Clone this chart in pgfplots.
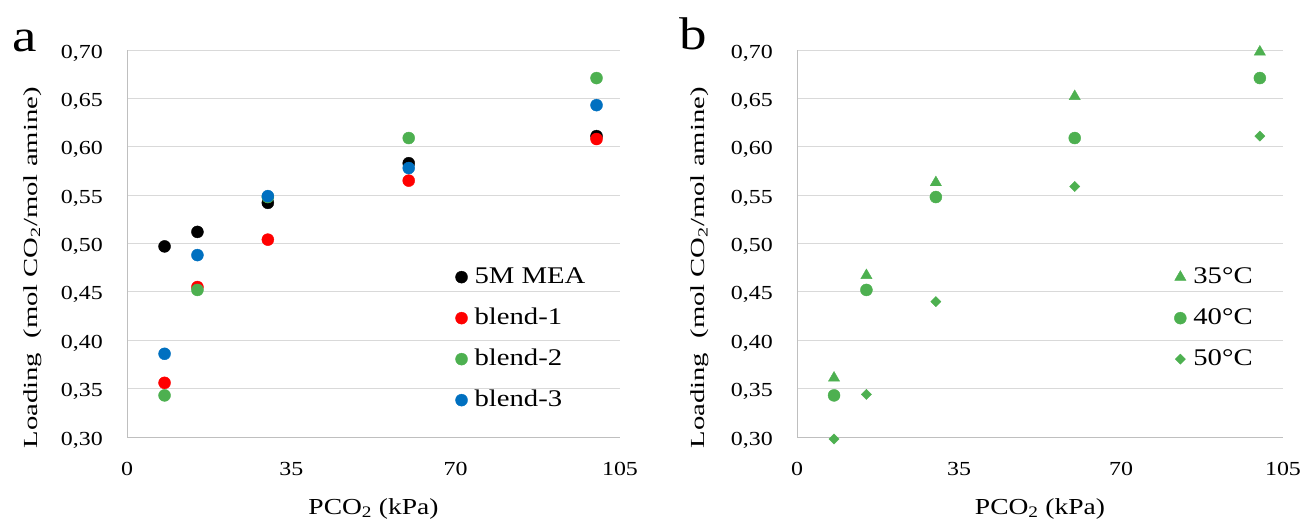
\documentclass[border=0pt]{standalone}
\usepackage{pgfplots}
\pgfplotsset{compat=1.18}
\usepackage{fontspec}
\setmainfont{Liberation Serif}[FakeStretch=1.2]

\definecolor{mgreen}{RGB}{77,176,80}
\definecolor{mblue}{RGB}{0,112,192}
\definecolor{mred}{RGB}{255,0,0}
\definecolor{gridgray}{RGB}{217,217,217}
\definecolor{axisgray}{RGB}{191,191,191}

\pgfplotsset{
  loadaxis/.style={
    scale only axis, height=387bp,
    xmin=0, xmax=105, ymin=0.30, ymax=0.70,
    xtick={0,35,70,105}, xticklabels={0,35,70,105},
    ytick={0.30,0.35,0.40,0.45,0.50,0.55,0.60,0.65,0.70},
    yticklabels={{0,30},{0,35},{0,40},{0,45},{0,50},{0,55},{0,60},{0,65},{0,70}},
    axis x line*=bottom, axis y line*=left,
    axis line style={-, draw=axisgray, line width=1bp},
    ymajorgrids, major grid style={draw=gridgray, line width=1bp},
    major tick length=0pt,
    tick label style={font=\fontsize{20}{24}\selectfont, inner sep=0pt},
    xticklabel style={anchor=base, yshift=-38bp},
    yticklabel style={anchor=east, xshift=-24bp, yshift=-3bp},
    xlabel={PCO\textsubscript{2} (kPa)},
    ylabel={\scalebox{1.2}[1]{Loading\ \ (mol CO\textsubscript{2}/mol amine)}},
    xlabel style={font=\fontsize{23}{27}\selectfont, inner sep=0pt,
      at={(axis description cs:0.5,0)}, anchor=base, yshift=-77bp},
    ylabel style={font=\fontsize{20}{24}\selectfont, inner sep=0pt},
    clip=false,
    legend cell align=left,
    legend style={draw=none, fill=none, inner sep=0pt, anchor=north west,
      row sep=19bp, column sep=0pt,
      /tikz/every odd column/.append style={column sep=7bp},
      font=\fontsize{24}{28}\selectfont,
      nodes={inner sep=0pt, text height=17bp, text depth=5bp}},
  },
  dot/.style={only marks, mark=*, mark size=6bp, color=#1},
}

% loading data, panel a (x in kPa)
\pgfplotstableread{
x y
8 0.497
15 0.512
30 0.542
60 0.583
100 0.611
}\mea
\pgfplotstableread{
x y
8 0.356
15 0.455
30 0.504
60 0.565
100 0.608
}\blendone
\pgfplotstableread{
x y
8 0.343
15 0.452
30 0.548
60 0.609
100 0.671
}\blendtwo
\pgfplotstableread{
x y
8 0.386
15 0.488
30 0.549
60 0.578
100 0.643
}\blendthree
% blend-2 at three temperatures, panel b
\pgfplotstableread{
x y
8 0.361
15 0.467
30 0.563
60 0.652
100 0.698
}\tthirtyfive
\pgfplotstableread{
x y
8 0.298
15 0.344
30 0.440
60 0.559
100 0.611
}\tfifty

\begin{document}
\begin{tikzpicture}
\useasboundingbox (0,0) rectangle (1301bp,520bp);

\begin{axis}[loadaxis, at={(127bp,83bp)}, anchor=south west, width=493bp,
  ylabel style={at={(axis description cs:-0.192,0.437)}, anchor=center},
  legend style={at={(axis description cs:0.666,0.442)}}]
\addplot[dot=black] table {\mea};
\addplot[dot=mred] table {\blendone};
\addplot[dot=mgreen] table {\blendtwo};
\addplot[dot=mblue] table {\blendthree};
\legend{5M MEA, blend-1, blend-2, blend-3}
\end{axis}

\begin{axis}[loadaxis, at={(797bp,83bp)}, anchor=south west, width=486bp,
  ylabel style={at={(axis description cs:-0.2,0.437)}, anchor=center},
  legend style={at={(axis description cs:0.776,0.442)}}]
\addplot[only marks, mark=triangle*, mark size=6.5bp, color=mgreen] table {\tthirtyfive};
\addplot[dot=mgreen] table {\blendtwo};
\addplot[only marks, mark=square*, mark size=3.6bp, mark options={rotate=45}, color=mgreen] table {\tfifty};
\legend{35\textdegree C, 40\textdegree C, 50\textdegree C}
\end{axis}

\node[anchor=base west, inner sep=0pt, font=\fontsize{46}{50}\selectfont] at (12bp,468bp) {a};
\node[anchor=base west, inner sep=0pt, font=\fontsize{46}{50}\selectfont] at (679bp,470bp) {b};
\end{tikzpicture}
\end{document}
